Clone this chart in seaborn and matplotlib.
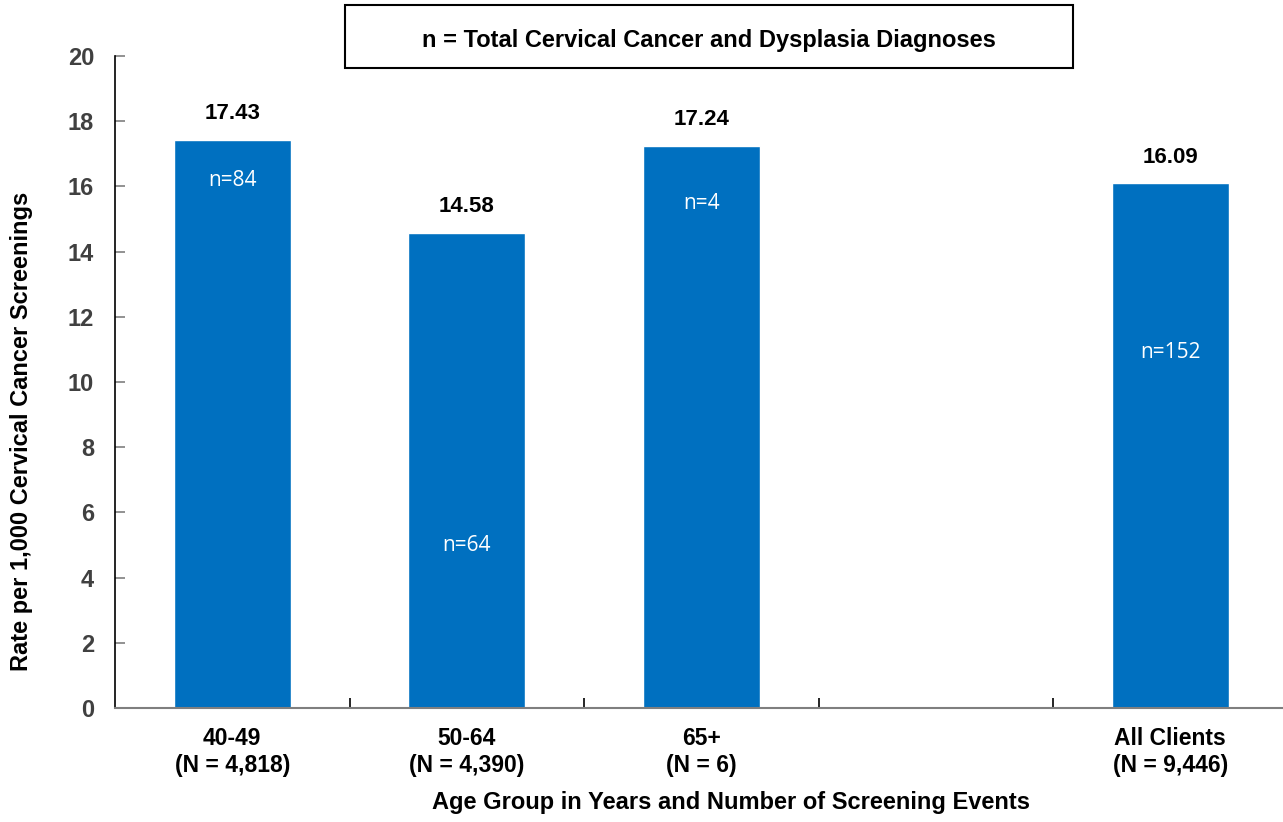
import matplotlib
matplotlib.use("Agg")
import matplotlib.pyplot as plt
import seaborn as sns
import pandas as pd
from matplotlib.patches import Rectangle
from matplotlib.ticker import FixedLocator

# Rates per 1,000 screenings by age group
groups = ["40-49", "50-64", "65+", "All Clients"]
screenings = ["4,818", "4,390", "6", "9,446"]
rates = [17.43, 14.58, 17.24, 16.09]
diagnoses = ["n=84", "n=64", "n=4", "n=152"]
# vertical placement (in data units) of the in-bar n= labels
n_label_y = [16.17, 4.97, 15.49, 10.92]

labels = [f"{g}\n(N = {s})" for g, s in zip(groups, screenings)]
gap = " "  # empty slot separating the age groups from the total
order = labels[:3] + [gap] + labels[3:]

df = pd.DataFrame({"group": labels, "rate": rates})

sns.set_theme(style="white")
plt.rcParams["font.family"] = ["Liberation Sans", "DejaVu Sans"]

fig = plt.figure(figsize=(12.83, 8.22), dpi=100)
ax = fig.add_axes([115 / 1283, 114 / 822, 1172.5 / 1283, 652 / 822])

sns.barplot(data=df, x="group", y="rate", order=order, color="#0070C0",
            saturation=1, width=0.5, ax=ax)

ax.set_ylim(0, 20)
ax.set_xlim(-0.5, len(order) - 0.5)
ax.set_yticks(range(0, 21, 2))
ax.tick_params(axis="y", direction="in", length=7, width=1.2, color="#7f7f7f",
               labelsize=17, labelcolor="#404040", pad=15, left=True)
for t in ax.get_yticklabels():
    t.set_fontweight("bold")

ax.tick_params(axis="x", length=0, labelsize=16.5, labelcolor="black", pad=14)
for t in ax.get_xticklabels():
    t.set_fontweight("bold")
    t.set_linespacing(1.2)
ax.xaxis.set_minor_locator(FixedLocator([i + 0.5 for i in range(len(order) - 1)]))
ax.tick_params(axis="x", which="minor", direction="in", length=7, width=1.2,
               color="black", bottom=True)

for side in ["top", "right"]:
    ax.spines[side].set_visible(False)
ax.spines["left"].set_color("black")
ax.spines["left"].set_linewidth(1.2)
ax.spines["bottom"].set_color("#7f7f7f")
ax.spines["bottom"].set_linewidth(1.5)

ax.set_ylabel("Rate per 1,000 Cervical Cancer Screenings", fontsize=17,
              fontweight="bold", color="black")
ax.yaxis.set_label_coords(-82 / 1172.5, 277 / 652)
ax.set_xlabel("Age Group in Years and Number of Screening Events", fontsize=17,
              fontweight="bold", color="black")
ax.xaxis.set_label_coords(616 / 1172.5, -83 / 652)

# value labels above bars and diagnosis counts inside
for lab, r, n, ny in zip(labels, rates, diagnoses, n_label_y):
    x = order.index(lab)
    ax.annotate(f"{r:.2f}", (x, r), xytext=(0, 19), textcoords="offset points",
                ha="center", va="center", fontsize=16, fontweight="bold",
                color="black")
    ax.text(x, ny, n, ha="center", va="center", fontsize=15, color="white",
            family=["Open Sans", "DejaVu Sans"])

# note box explaining the n= labels
fig.add_artist(Rectangle((345 / 1283, 1 - 68 / 822), 728 / 1283, 63 / 822,
                         transform=fig.transFigure, facecolor="white",
                         edgecolor="black", linewidth=1.5))
fig.text(709 / 1283, 1 - 41 / 822, "n = Total Cervical Cancer and Dysplasia Diagnoses",
         ha="center", va="center", fontsize=17, fontweight="bold", color="black")

fig.savefig("out.png", dpi=100)
